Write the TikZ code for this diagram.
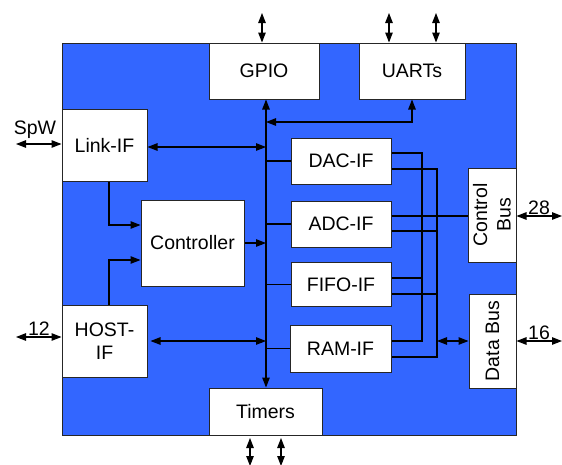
\documentclass[tikz,border=0pt]{standalone}
\usepackage{fontspec}
\setmainfont{Liberation Sans}
\usetikzlibrary{arrows.meta}
\definecolor{chipblue}{RGB}{51,102,255}
\begin{document}
\begin{tikzpicture}[x=1pt,y=-1pt,
  font=\fontsize{19.5}{23.5}\selectfont,
  box/.style={draw=black!85,line width=1pt,fill=white,inner sep=0pt,align=center},
  conn/.style={draw=black,line width=1.1pt},
  tip/.style={conn,{Triangle[length=10pt,width=7.5pt]}-{Triangle[length=10pt,width=7.5pt]}},
  rtip/.style={conn,-{Triangle[length=10pt,width=7.5pt]}},
  lbl/.style={inner sep=0pt}]
\useasboundingbox (0,0) rectangle (562,464);
% chip body
\node[draw=black!85,line width=1pt,fill=chipblue,minimum width=454pt,minimum height=392pt,inner sep=0pt] (chip) at (289,239) {};
% blocks
\node[box,minimum width=110pt,minimum height=56pt] (GPIO) at (264,71) {GPIO};
\node[box,minimum width=106pt,minimum height=56pt] (UART) at (412,71) {UARTs};
\node[box,minimum width=85pt,minimum height=72pt] (LINK) at (104.5,145) {Link-IF};
\node[box,minimum width=103pt,minimum height=86pt] (CTRL) at (192.5,243) {Controller};
\node[box,minimum width=100pt,minimum height=46pt] (DAC) at (341,161) {DAC-IF};
\node[box,minimum width=100pt,minimum height=46pt] (ADC) at (341,224) {ADC-IF};
\node[box,minimum width=100pt,minimum height=44pt] (FIFO) at (341,284.5) {FIFO-IF};
\node[box,minimum width=101pt,minimum height=47pt] (RAM) at (340.5,348.5) {RAM-IF};
\node[box,minimum width=85pt,minimum height=72pt] (HOST) at (104.5,341) {HOST-\\IF};
\node[box,minimum width=113pt,minimum height=47pt] (TIM) at (265.5,411.5) {Timers};
\node[box,minimum width=48pt,minimum height=94pt] (CB) at (492,215) {};
\node[lbl,rotate=90,align=center] (CBt) at (CB.center) {Control\\Bus};
\node[box,minimum width=47pt,minimum height=94pt] (DB) at (492.5,341) {};
\node[lbl,rotate=90] (DBt) at (DB.center) {Data Bus};
% helper coordinates
\coordinate (busx) at (266,0);
\coordinate (v1) at (422,0);
\coordinate (v2) at (437,0);
\coordinate (ub) at (266,122);
\coordinate (lb) at (266,147);
\coordinate (lc) at (109,225);
\coordinate (hc) at (109,260);
\coordinate (spw) at (16,144);
\coordinate (h12) at (16,337);
\coordinate (c28) at (562,216);
\coordinate (d16) at (562,341);
\coordinate (g1) at (262,13);
\coordinate (u1) at (389,13);
\coordinate (u2) at (436,13);
\coordinate (t1a) at (250,438);
\coordinate (t1b) at (250,466);
\coordinate (t2a) at (281,438);
\coordinate (t2b) at (281,466);
% internal bus
\draw[tip] (GPIO.south -| busx) -- (TIM.north -| busx);
\draw[tip] (UART.south) |- (ub);
\draw[tip] (LINK.east |- lb) -- (lb);
\draw[conn] (DAC.west) -- (DAC.west -| busx);
\draw[conn] (ADC.west) -- (ADC.west -| busx);
\draw[conn] (FIFO.west) -- (FIFO.west -| busx);
\draw[conn] (RAM.west) -- (RAM.west -| busx);
\draw[rtip] (CTRL.east) -- (CTRL.east -| busx);
\draw[tip] ([xshift=3pt]HOST.east) -- (HOST.east -| busx);
\draw[rtip] (LINK.south -| lc) -- (lc) -- (lc -| CTRL.west);
\draw[rtip] (HOST.north -| hc) -- (hc) -- (hc -| CTRL.west);
% right-hand bundle
\draw[conn] ([yshift=8pt]DAC.east) -| ([yshift=7.5pt]RAM.east -| v1) -- ([yshift=7.5pt]RAM.east);
\draw[conn] ([yshift=-8pt]DAC.east) -| ([yshift=-8.5pt]RAM.east -| v2) -- ([yshift=-8.5pt]RAM.east);
\draw[conn] ([yshift=8pt]ADC.east) -- ([yshift=8pt]ADC.east -| CB.west);
\draw[conn] ([yshift=-7pt]ADC.east) -- ([yshift=-7pt]ADC.east -| v2);
\draw[conn] ([yshift=6.5pt]FIFO.east) -- ([yshift=6.5pt]FIFO.east -| v1);
\draw[conn] ([yshift=-9.5pt]FIFO.east) -- ([yshift=-9.5pt]FIFO.east -| v2);
\draw[tip] (DB.west -| v2) -- (DB.west);
% external connections
\draw[tip] (spw) -- (spw -| LINK.west);
\node[lbl] (spwl) at (35,130) {SpW};
\draw[tip] (h12) -- (h12 -| HOST.west);
\node[lbl] (h12l) at (39,329) {12};
\draw[tip] (CB.east |- c28) -- (c28);
\node[lbl] (c28l) at (539,208) {28};
\draw[tip] (DB.east |- d16) -- (d16);
\node[lbl] (d16l) at (539,333) {16};
\draw[tip] (g1) -- (GPIO.north -| g1);
\draw[tip] (u1) -- (UART.north -| u1);
\draw[tip] (u2) -- (UART.north -| u2);
\draw[tip] (t1a) -- (t1b);
\draw[tip] (t2a) -- (t2b);
\end{tikzpicture}
\end{document}
